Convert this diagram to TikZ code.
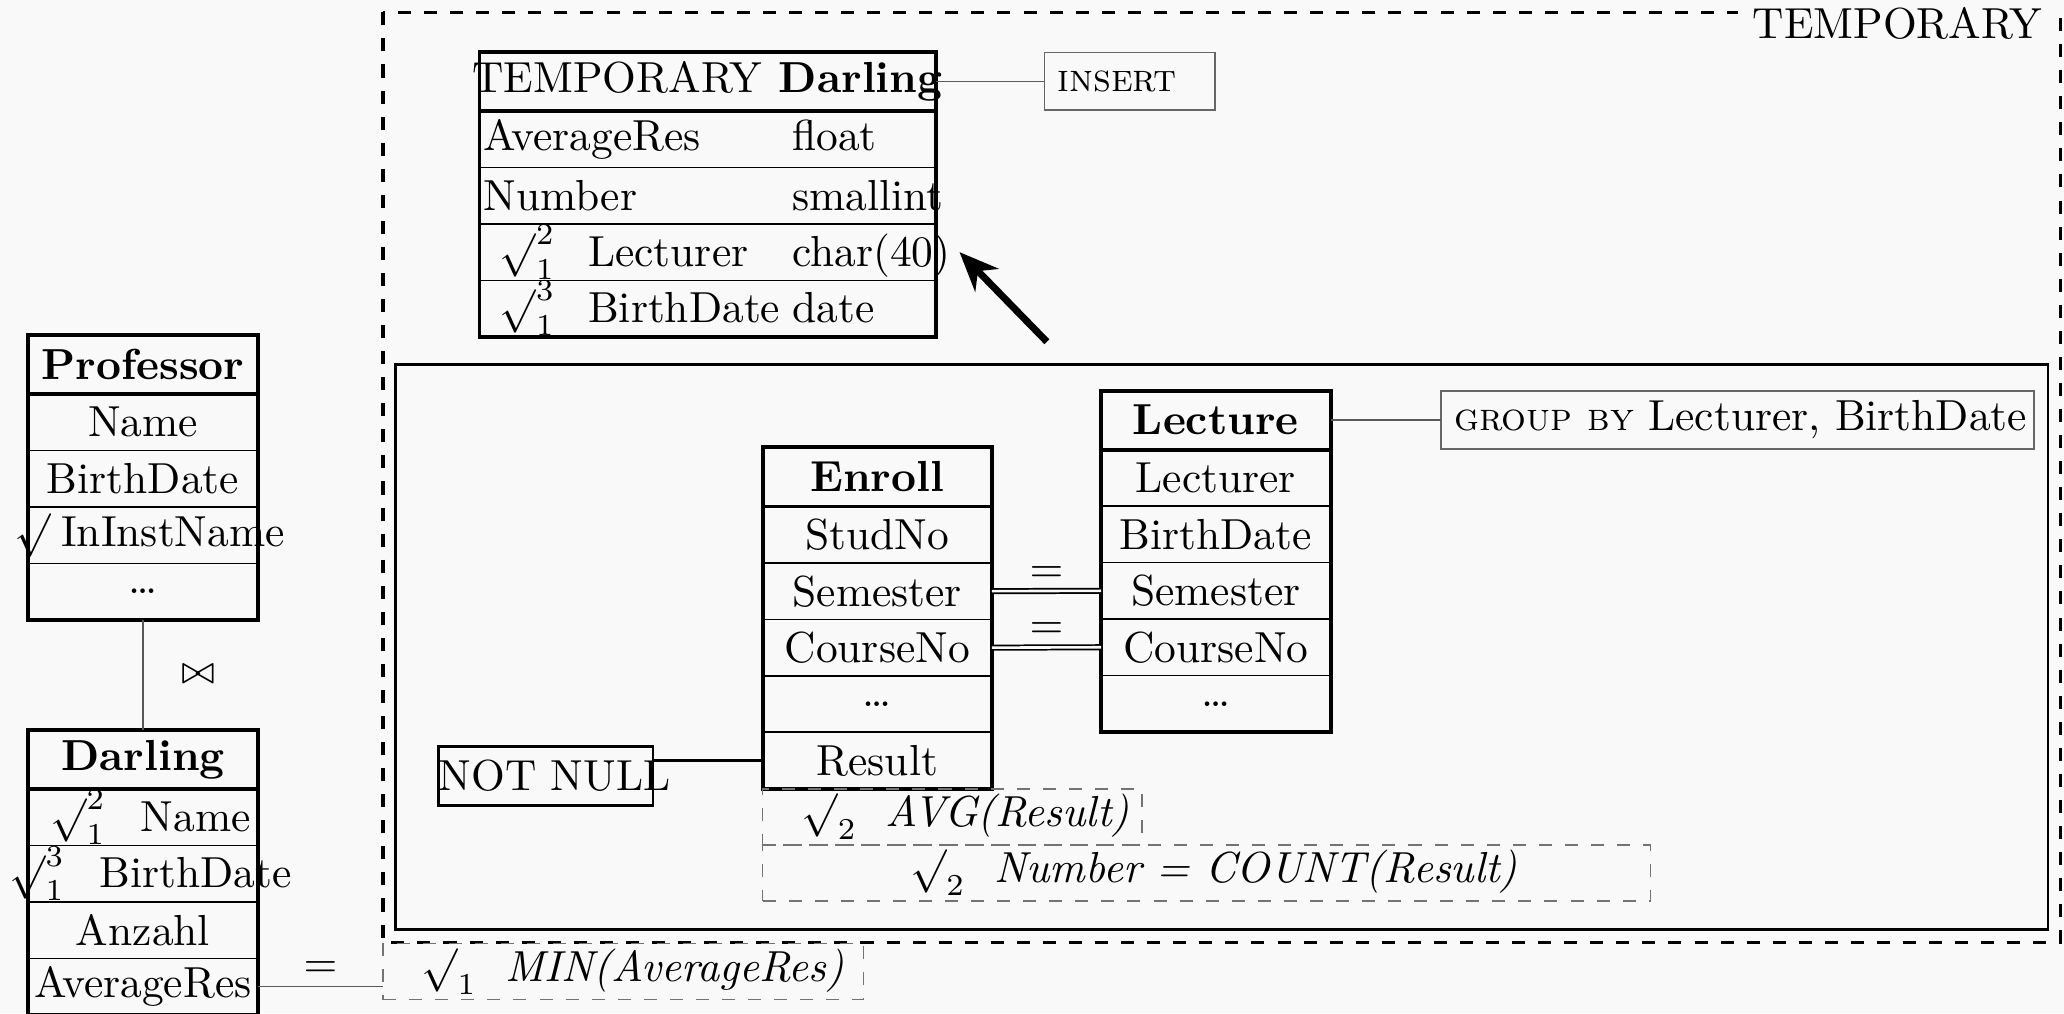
\documentclass[tikz,border=0pt]{standalone}
\usetikzlibrary{positioning,arrows.meta}
\definecolor{bgcol}{HTML}{F9F9F9}
\tikzset{
  tabhead/.style={draw, line width=0.9pt, minimum width=52.8pt, minimum height=13.6pt,
    inner sep=0pt, outer sep=0pt, font=\bfseries},
  tabrow/.style={draw, thin, minimum width=52.8pt, minimum height=13pt,
    inner sep=0pt, outer sep=0pt},
  tabframe/.style={line width=0.9pt},
  note/.style={draw=black!65, thin},
  clause/.style={draw=black!60, thin, minimum height=13.3pt, inner xsep=3pt,
    inner ysep=0pt, outer sep=0pt},
  aggbox/.style={draw=black!55, thin, dashed, minimum height=12.9pt, inner sep=0pt,
    outer sep=0pt, anchor=north west},
  joinline/.style={thin, double=bgcol, double distance=0.6pt},
  qarrow/.style={-{Stealth[length=9pt,width=7.5pt]}, line width=1.6pt},
}
\begin{document}
\begin{tikzpicture}
  \fill[bgcol] (0,0) rectangle (16.70,-8.20);
  \useasboundingbox (0,0) rectangle (16.70,-8.20);

  % frames
  \draw[thick, dashed] (3.10,-0.10) rectangle (16.67,-7.625);
  \draw[semithick] (3.20,-2.947) rectangle (16.571,-7.522);
  \node[anchor=base east, fill=bgcol] (templabel) at (16.65,-0.31) {TEMPORARY};

  % Professor
  \node[tabhead, anchor=north west] (prof) at (0.229,-2.71) {Professor};
  \node[tabrow, below=0pt of prof] (prof1) {Name};
  \node[tabrow, below=0pt of prof1] (prof2) {BirthDate};
  \node[tabrow, below=0pt of prof2] (prof3) {\makebox[52.8pt]{\hspace{3pt}$\surd$\hspace{2.5pt}InInstName}};
  \node[tabrow, below=0pt of prof3] (prof4) {\dots};
  \draw[tabframe] (prof.north west) rectangle (prof4.south east);

  % Darling
  \node[tabhead, below=0.89cm of prof4] (darl) {Darling};
  \node[tabrow, below=0pt of darl] (darl1) {\makebox[52.8pt]{\hspace{3.5pt}$\surd^2_1$\hspace{8pt}Name}};
  \node[tabrow, below=0pt of darl1] (darl2) {\makebox[52.8pt]{\hspace{3.5pt}$\surd^3_1$\hspace{8pt}BirthDate}};
  \node[tabrow, below=0pt of darl2] (darl3) {Anzahl};
  \node[tabrow, below=0pt of darl3] (darl4) {AverageRes};
  \draw[tabframe] (darl.north west) rectangle (darl4.south east);
  \draw[note] (prof4) -- node[right=5.3pt] (natjoin) {\small$\bowtie$} (darl);

  % temporary table
  \node[tabhead, minimum width=105pt, anchor=north west] (tmp) at (3.88,-0.42)
    {\makebox[105pt]{\textmd{TEMPORARY} Darling}};
  \node[tabrow, minimum width=105pt, below=0pt of tmp] (tmp1)
    {\makebox[103pt][l]{\makebox[71pt][l]{AverageRes}float}};
  \node[tabrow, minimum width=105pt, below=0pt of tmp1] (tmp2)
    {\makebox[103pt][l]{\makebox[71pt][l]{Number}smallint}};
  \node[tabrow, minimum width=105pt, below=0pt of tmp2] (tmp3)
    {\makebox[103pt][l]{\makebox[71pt][l]{\hspace{3.7pt}$\surd^2_1$\hspace{7.5pt}Lecturer}char(40)}};
  \node[tabrow, minimum width=105pt, below=0pt of tmp3] (tmp4)
    {\makebox[103pt][l]{\makebox[71pt][l]{\hspace{3.7pt}$\surd^3_1$\hspace{7.5pt}BirthDate}date}};
  \draw[tabframe] (tmp.north west) rectangle (tmp4.south east);
  \node[clause, right=0.88cm of tmp] (insert) {\makebox[33.2pt][l]{\small\textsc{insert}}};
  \draw[note] (tmp) -- (insert);
  \coordinate (qry) at (8.47,-2.765);
  \draw[qarrow] (qry) -- ([xshift=5.5pt]tmp3.east);

  % Enroll
  \node[tabhead, anchor=north west] (enr) at (6.17,-3.62) {Enroll};
  \node[tabrow, below=0pt of enr] (enr1) {StudNo};
  \node[tabrow, below=0pt of enr1] (enr2) {Semester};
  \node[tabrow, below=0pt of enr2] (enr3) {CourseNo};
  \node[tabrow, below=0pt of enr3] (enr4) {\dots};
  \node[tabrow, below=0pt of enr4] (enr5) {Result};
  \draw[tabframe] (enr.north west) rectangle (enr5.south east);

  % Lecture
  \node[tabhead, anchor=north west] (lect) at (8.91,-3.16) {Lecture};
  \node[tabrow, below=0pt of lect] (lect1) {Lecturer};
  \node[tabrow, below=0pt of lect1] (lect2) {BirthDate};
  \node[tabrow, below=0pt of lect2] (lect3) {Semester};
  \node[tabrow, below=0pt of lect3] (lect4) {CourseNo};
  \node[tabrow, below=0pt of lect4] (lect5) {\dots};
  \draw[tabframe] (lect.north west) rectangle (lect5.south east);
  \node[clause, right=0.895cm of lect] (groupby)
    {\makebox[130.5pt][l]{{\small\textsc{group by}} Lecturer, BirthDate}};
  \draw[note] (lect) -- (groupby);

  % joins
  \draw[joinline] (enr2.east) -- node[above=-1.5pt] (eqsem) {$=$} (lect3.west);
  \draw[joinline] (enr3.east) -- node[above=-1.5pt] (eqcrs) {$=$} (lect4.west);

  % conditions and aggregates
  \node[draw, semithick, anchor=north west, minimum height=13.6pt, inner sep=0pt,
    outer sep=0pt] (notnull) at (3.55,-6.04) {\makebox[49.3pt][l]{NOT NULL}};
  \draw[semithick] (enr5.west) -- (enr5.west -| notnull.east);
  \node[aggbox] (avg) at (enr5.south west)
    {\makebox[87.3pt][l]{\hspace{9pt}$\surd_2$\hspace{6.5pt}\textit{AVG(Result)}}};
  \node[aggbox] (count) at (avg.south west)
    {\makebox[204.4pt][l]{\hspace{34pt}$\surd_2$\hspace{6.5pt}\textit{Number = COUNT(Result)}}};
  \node[aggbox] (min) at (3.10,-7.634)
    {\makebox[110.6pt][l]{\hspace{8.8pt}$\surd_1$\hspace{6.5pt}\textit{MIN(AverageRes)}}};
  \draw[note] (darl4.east) -- node[above=-1.5pt] (eqmin) {$=$} (darl4.east -| min.west);
\end{tikzpicture}
\end{document}
